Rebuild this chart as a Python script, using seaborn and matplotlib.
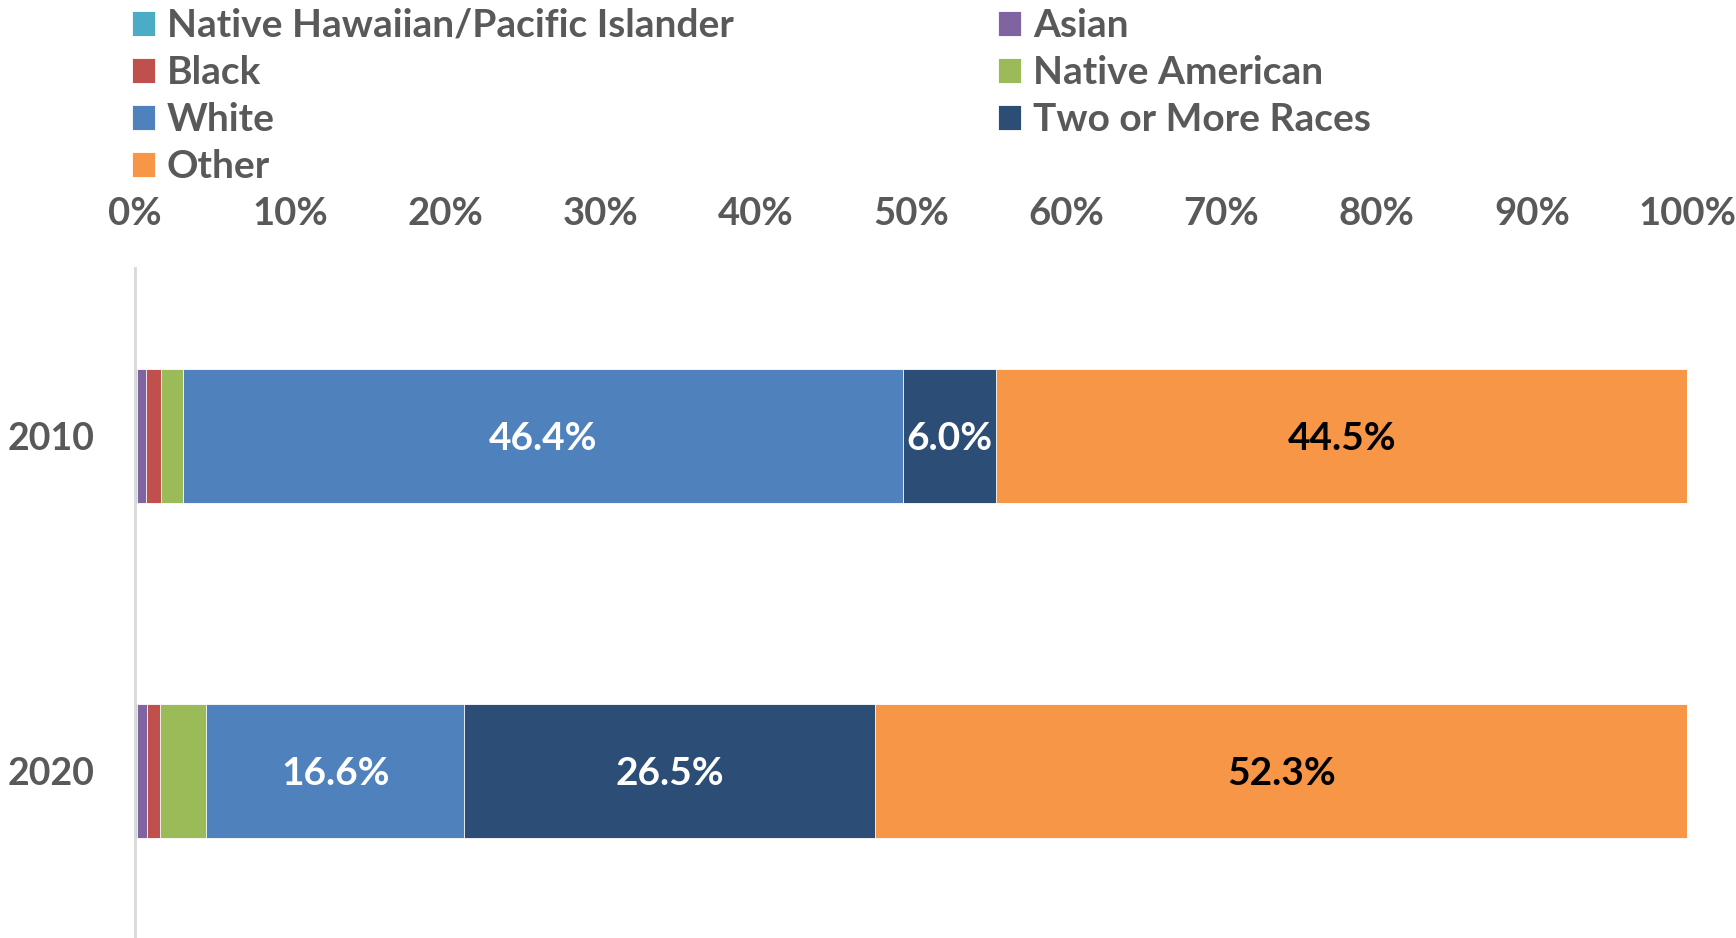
import numpy as np
import pandas as pd
import matplotlib
matplotlib.use("Agg")
import matplotlib.pyplot as plt
import seaborn as sns

# data (percent of population)
years = ["2010", "2020"]
groups = ["Native Hawaiian/Pacific Islander", "Asian", "Black", "Native American",
          "White", "Two or More Races", "Other"]
hawaiian = [0.1, 0.1]
asian = [0.6, 0.7]
black = [1.0, 0.8]
native_am = [1.4, 3.0]
white = [46.4, 16.6]
two_more = [6.0, 26.5]
other = [44.5, 52.3]
colors = ["#4BACC6", "#8064A2", "#C0504D", "#9BBB59", "#4F81BD", "#2C4D75", "#F79646"]
label_colors = {"White": "white", "Two or More Races": "white", "Other": "black"}

sns.set_theme(style="white")
plt.rcParams["font.family"] = ["Lato", "DejaVu Sans"]
plt.rcParams["font.weight"] = "bold"

df = pd.DataFrame({"year": years, "Native Hawaiian/Pacific Islander": hawaiian,
                   "Asian": asian, "Black": black, "Native American": native_am,
                   "White": white, "Two or More Races": two_more, "Other": other})
cum = df[groups].cumsum(axis=1)

fig = plt.figure(figsize=(17.36, 9.38), dpi=100)
ax = fig.add_axes([0.0778, 0.0, 0.894, 0.714])

# draw cumulative bars from the back so each group shows as a stacked segment
for g, c in reversed(list(zip(groups, colors))):
    sns.barplot(x=cum[g], y=df["year"], color=c, orient="h", width=0.4,
                saturation=1, ax=ax, label=g, linewidth=0.6, edgecolor="white")

for g in label_colors:
    for i in range(len(years)):
        v = df.loc[i, g]
        ax.text(cum.loc[i, g] - v / 2, i, f"{v:.1f}%", ha="center",
                va="center_baseline", fontsize=28, fontweight="bold",
                color=label_colors[g])

ax.set_xlim(0, 100)
ax.set_ylim(1.5, -0.5)
ax.set_xticks(np.arange(0, 101, 10))
ax.set_xticklabels([f"{t}%" for t in range(0, 101, 10)])
ax.xaxis.tick_top()
ax.tick_params(axis="x", length=0, pad=27, labelsize=27.5, labelcolor="#595959")
ax.tick_params(axis="y", length=0, pad=29, labelsize=27, labelcolor="#595959")
ax.set_xlabel("")
ax.set_ylabel("")
for s in ["top", "right", "bottom"]:
    ax.spines[s].set_visible(False)
ax.spines["left"].set_color("#D9D9D9")
ax.spines["left"].set_linewidth(2)

handles, labels = ax.get_legend_handles_labels()
lookup = dict(zip(labels, handles))
order = ["Native Hawaiian/Pacific Islander", "Black", "White", "Other",
         "Asian", "Native American", "Two or More Races"]
ax.legend([lookup[o] for o in order], order, ncol=2, loc="upper left",
          bbox_to_anchor=(0.0557, 1.0288), bbox_transform=fig.transFigure,
          frameon=False, fontsize=28, handlelength=0.6, handleheight=0.6,
          handletextpad=0.3, labelspacing=0.31, columnspacing=6.8,
          labelcolor="#595959")

fig.savefig("out.png", dpi=100)
